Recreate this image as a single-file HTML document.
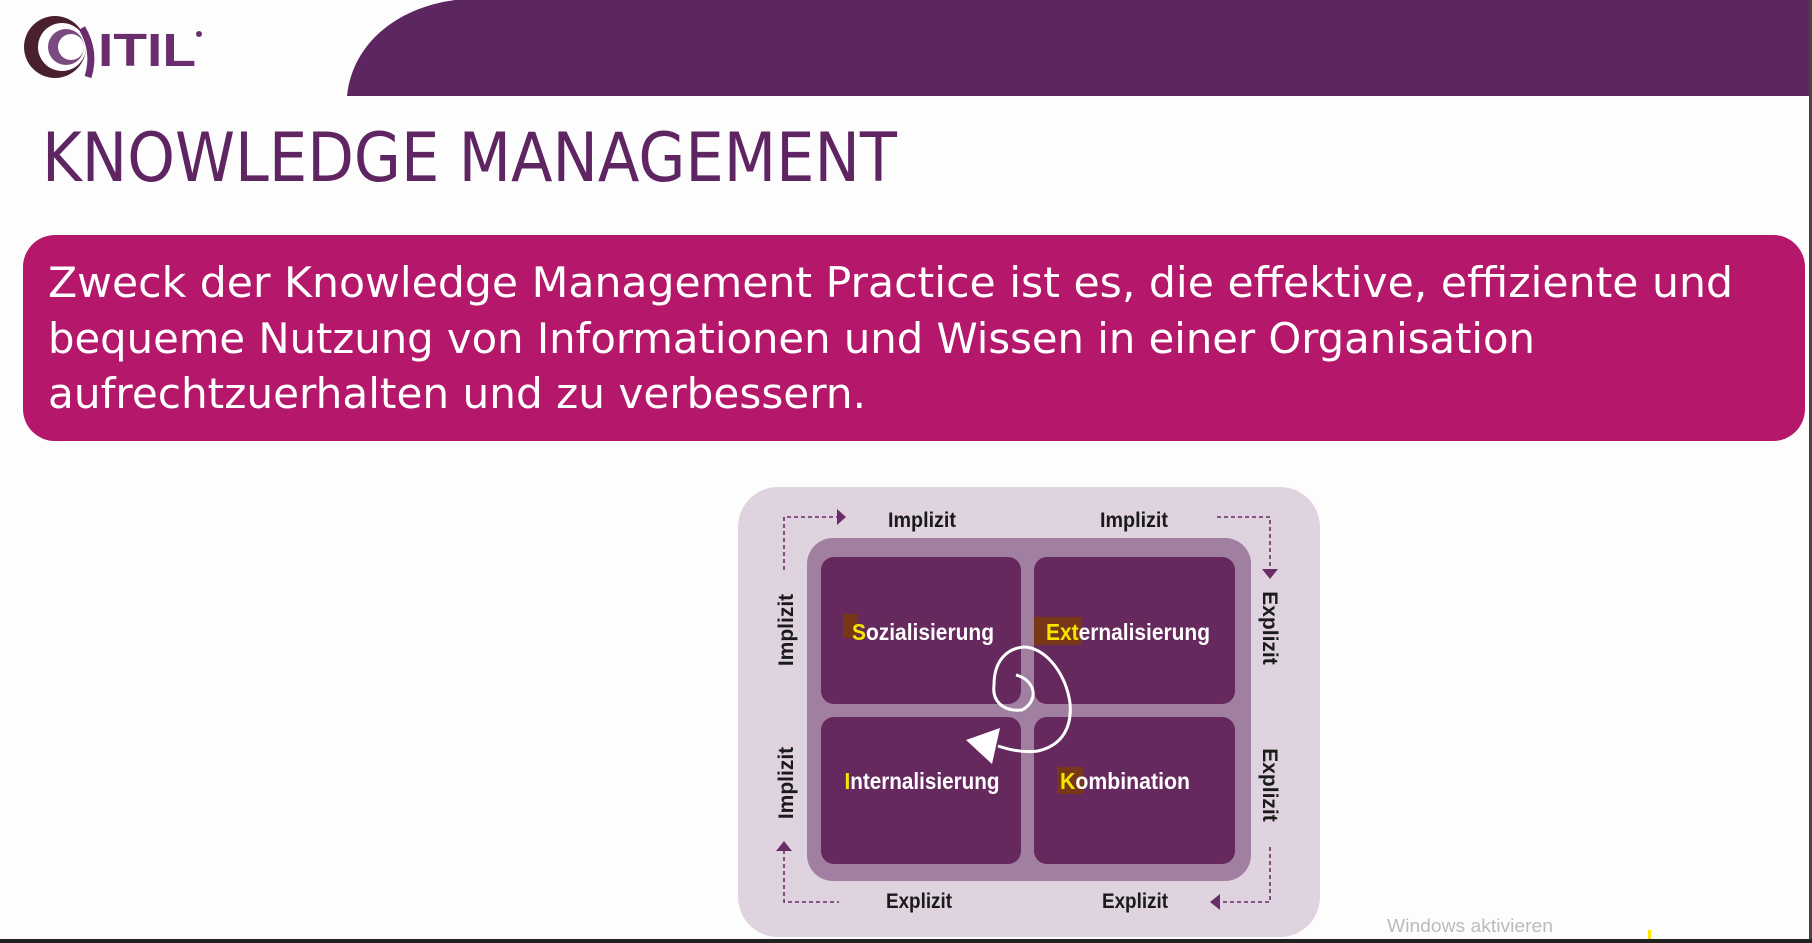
<!DOCTYPE html>
<html><head><meta charset="utf-8"><style>
html,body{margin:0;padding:0;background:#fff;}
body{width:1812px;height:943px;overflow:hidden;position:relative;font-family:"Liberation Sans",sans-serif;}
</style></head><body>
<svg width="1812" height="943" viewBox="0 0 1812 943" xmlns="http://www.w3.org/2000/svg" style="position:absolute;left:0;top:0">
<rect x="0" y="0" width="1812" height="943" fill="#fefdfe"/>
<!-- banner -->
<path d="M347,96 C352,45 395,8 455,0 L1810,0 L1810,96 Z" fill="#5e2661"/>
<rect x="1809" y="0" width="3" height="943" fill="#444"/>
<rect x="0" y="939" width="1812" height="4" fill="#222"/>
<!-- logo -->
<circle cx="55" cy="47" r="31" fill="#4a2030"/>
<circle cx="62" cy="47" r="24" fill="#fff"/>
<circle cx="66" cy="47" r="18" fill="#7a4a80"/>
<circle cx="71" cy="47" r="13" fill="#fff"/>
<path d="M82,28 Q96,52 88,77" stroke="#6a2d6e" stroke-width="7" fill="none"/>
<text x="98" y="66" font-family="Liberation Sans, sans-serif" font-weight="bold" font-size="46" fill="#6a2d6e" textLength="98" lengthAdjust="spacingAndGlyphs">ITIL</text>
<circle cx="199" cy="34" r="3" fill="#6a2d6e"/>
<!-- title -->
<text x="42" y="181" font-family="DejaVu Sans, sans-serif" font-size="68" fill="#5e2562" textLength="855" lengthAdjust="spacingAndGlyphs">KNOWLEDGE MANAGEMENT</text>
<!-- magenta box -->
<rect x="23" y="235" width="1782" height="206" rx="32" fill="#b5176b"/>
<g font-family="DejaVu Sans, sans-serif" font-size="42" fill="#fff">
<text x="48" y="297" textLength="1685" lengthAdjust="spacingAndGlyphs">Zweck der Knowledge Management Practice ist es, die effektive, effiziente und</text>
<text x="48" y="353" textLength="1487" lengthAdjust="spacingAndGlyphs">bequeme Nutzung von Informationen und Wissen in einer Organisation</text>
<text x="48" y="408" textLength="818" lengthAdjust="spacingAndGlyphs">aufrechtzuerhalten und zu verbessern.</text>
</g>
<!-- diagram -->
<rect x="738" y="487" width="582" height="450" rx="40" fill="#e0d3e0"/>
<rect x="807" y="538" width="444" height="343" rx="26" fill="#a07fa0"/>
<g fill="#66295e">
<rect x="821" y="557" width="200" height="147" rx="13"/>
<rect x="1034" y="557" width="201" height="147" rx="13"/>
<rect x="821" y="717" width="200" height="147" rx="13"/>
<rect x="1034" y="717" width="201" height="147" rx="13"/>
</g>
<g font-family="Liberation Sans, sans-serif" font-weight="bold" font-size="21" fill="#1a1a1a" text-anchor="middle">
<text x="922" y="527" textLength="68" lengthAdjust="spacingAndGlyphs">Implizit</text>
<text x="1134" y="527" textLength="68" lengthAdjust="spacingAndGlyphs">Implizit</text>
<text x="919" y="908" textLength="66" lengthAdjust="spacingAndGlyphs">Explizit</text>
<text x="1135" y="908" textLength="66" lengthAdjust="spacingAndGlyphs">Explizit</text>
<text transform="translate(793,630) rotate(-90)">Implizit</text>
<text transform="translate(793,783) rotate(-90)">Implizit</text>
<text transform="translate(1263,628) rotate(90)">Explizit</text>
<text transform="translate(1263,785) rotate(90)">Explizit</text>
</g>
<g stroke="#6b2d66" stroke-width="1.6" stroke-dasharray="4,3" fill="none">
<path d="M784,570 V517 H838"/>
<path d="M1217,517 H1270 V570"/>
<path d="M784,850 V902 H839"/>
<path d="M1270,847 V902 H1220"/>
</g>
<g fill="#6b2d66">
<path d="M837,509 L846,517 L837,525 Z"/>
<path d="M1262,569 L1270,579 L1278,569 Z"/>
<path d="M776,851 L784,841 L792,851 Z"/>
<path d="M1220,894 L1210,902 L1220,910 Z"/>
</g>
<!-- highlights -->
<g fill="#7a3a10" opacity="0.9">
<rect x="843" y="614" width="14" height="24"/>
<rect x="1034" y="617" width="48" height="28"/>
<rect x="1057" y="767" width="26" height="27"/>
</g>
<g font-family="Liberation Sans, sans-serif" font-weight="bold" font-size="23" fill="#fff" text-anchor="middle">
<text x="923" y="640" textLength="142" lengthAdjust="spacingAndGlyphs"><tspan fill="#f5e600">S</tspan>ozialisierung</text>
<text x="1128" y="640" textLength="164" lengthAdjust="spacingAndGlyphs"><tspan fill="#f5e600">Ext</tspan>ernalisierung</text>
<text x="922" y="789" textLength="155" lengthAdjust="spacingAndGlyphs"><tspan fill="#f5e600">I</tspan>nternalisierung</text>
<text x="1125" y="789" textLength="130" lengthAdjust="spacingAndGlyphs"><tspan fill="#f5e600">K</tspan>ombination</text>
</g>
<!-- spiral -->
<path d="M1016,675 C1035,680 1040,700 1022,710 C1002,712 992,700 994,685 C994,660 1008,647 1026,647 C1048,650 1066,675 1070,703 C1072,725 1064,745 1038,751 C1024,753 1010,750 998,746" stroke="#fff" stroke-width="3" fill="none"/>
<path d="M1000,728 L966,740 L992,764 Z" fill="#fff"/>
<text x="1387" y="932" font-family="Liberation Sans, sans-serif" font-size="18" fill="#bbb" textLength="166" lengthAdjust="spacingAndGlyphs">Windows aktivieren</text>
<rect x="1648" y="930" width="3" height="9" fill="#ffe600"/>
</svg>
</body></html>
